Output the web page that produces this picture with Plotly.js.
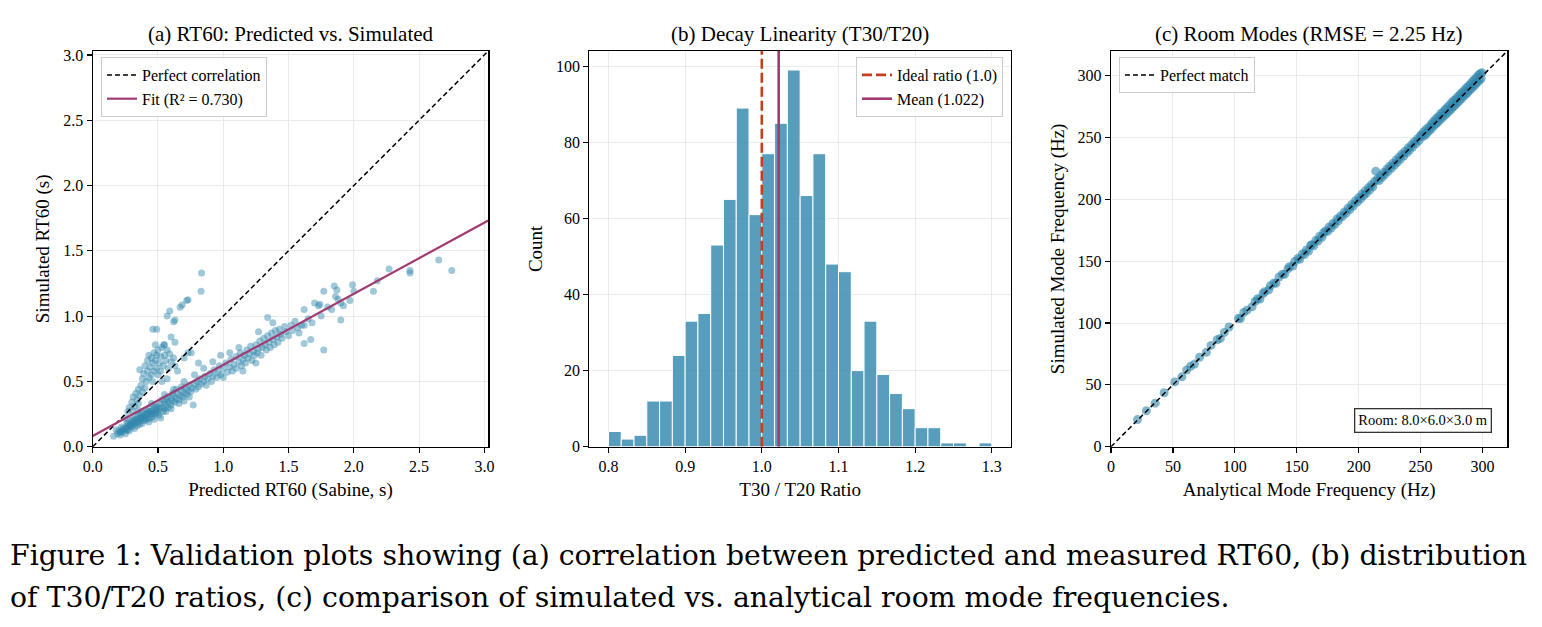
<!DOCTYPE html>
<html>
<head>
<meta charset="utf-8">
<script src="https://cdn.plot.ly/plotly-3.0.1.min.js"></script>
<style>html,body{margin:0;padding:0;background:#fff;}#chart{width:1542px;height:627px;}</style>
</head>
<body>
<div id="chart"></div>
<script>
// ---------- (a) RT60: predicted (Sabine) vs simulated ----------
const predictedRT60 = [
  0.16,0.19,0.20,0.21,0.22,0.23,0.24,0.25,0.25,0.26,
  0.27,0.28,0.28,0.29,0.30,0.30,0.31,0.32,0.32,0.33,
  0.34,0.34,0.35,0.36,0.36,0.37,0.38,0.38,0.39,0.40,
  0.40,0.41,0.42,0.42,0.43,0.44,0.44,0.45,0.46,0.46,
  0.47,0.48,0.48,0.49,0.50,0.50,0.51,0.52,0.52,0.53,
  0.54,0.55,0.55,0.56,0.57,0.58,0.58,0.60,0.60,0.61,
  0.62,0.63,0.64,0.65,0.66,0.67,0.68,0.69,0.70,0.71,
  0.72,0.73,0.74,0.75,0.76,0.77,0.78,0.79,0.80,0.81,
  0.82,0.83,0.85,0.86,0.87,0.88,0.90,0.91,0.92,0.93,
  0.95,0.96,0.97,0.98,1.00,1.00,
  0.35,0.45,0.55,0.62,0.70,0.78,0.85,0.92,0.98,0.18,
  0.22,0.26,0.29,0.33,0.37,0.41,0.43,0.47,0.51,0.56,
  0.60,0.66,0.70,0.74,
  1.02,1.03,1.05,1.06,1.07,1.08,1.10,1.10,1.12,1.13,
  1.14,1.15,1.16,1.17,1.18,1.19,1.20,1.21,1.22,1.23,
  1.24,1.25,1.26,1.27,1.28,1.29,1.30,1.31,1.32,1.33,
  1.34,1.35,1.36,1.37,1.38,1.39,1.40,1.41,1.42,1.43,
  1.44,1.45,1.47,1.48,1.50,1.52,1.53,1.55,1.57,1.58,
  1.34,1.38,1.27,1.12,1.05,1.15,1.25,
  1.62,1.62,1.62,1.67,1.77,1.70,1.73,1.74,1.77,1.83,
  1.85,1.87,1.86,1.88,1.90,1.92,1.90,1.97,2.00,2.15,
  2.18,2.27,2.43,2.43,2.65,2.75,1.65,1.68,1.60,1.75,
  1.80,1.99,
  0.25,0.27,0.28,0.30,0.30,0.31,0.32,0.33,0.34,0.35,
  0.35,0.36,0.36,0.37,0.38,0.38,0.39,0.40,0.40,0.41,
  0.42,0.42,0.43,0.43,0.44,0.45,0.45,0.46,0.46,0.47,
  0.47,0.48,0.48,0.49,0.49,0.50,0.50,0.51,0.52,0.52,
  0.53,0.54,0.55,0.55,0.56,0.57,0.58,0.59,0.60,0.62,
  0.63,0.65,0.70,0.755,0.53,0.57,
  0.83,0.834,0.73,0.72,0.685,0.67,0.59,0.57,0.62,0.63,
  0.46,0.49,0.60,0.63,0.545,0.81,0.73,
  0.21,0.23,0.26,0.27,0.29,0.31,0.33,0.35,0.37,0.39,
  0.41,0.43,0.45,0.47,0.49,0.53,0.57,0.61,0.64,0.68
];
const simulatedRT60 = [
  0.08,0.10,0.12,0.09,0.11,0.13,0.12,0.14,0.10,0.15,
  0.13,0.16,0.12,0.17,0.15,0.19,0.17,0.14,0.20,0.18,
  0.16,0.21,0.19,0.22,0.17,0.20,0.23,0.18,0.21,0.24,
  0.20,0.22,0.26,0.21,0.24,0.27,0.22,0.25,0.28,0.23,
  0.26,0.30,0.25,0.27,0.31,0.26,0.29,0.33,0.22,0.30,
  0.27,0.34,0.29,0.32,0.36,0.30,0.34,0.37,0.32,0.35,
  0.39,0.34,0.37,0.41,0.36,0.39,0.43,0.38,0.41,0.45,
  0.40,0.43,0.47,0.42,0.45,0.32,0.48,0.44,0.50,0.46,
  0.52,0.48,0.50,0.54,0.47,0.52,0.56,0.50,0.54,0.59,
  0.53,0.57,0.62,0.55,0.60,0.53,
  0.28,0.33,0.40,0.44,0.50,0.55,0.60,0.65,0.70,0.13,
  0.15,0.18,0.20,0.23,0.25,0.28,0.19,0.21,0.24,0.27,
  0.29,0.33,0.35,0.38,
  0.64,0.57,0.61,0.67,0.58,0.63,0.69,0.60,0.65,0.72,
  0.62,0.67,0.70,0.64,0.74,0.68,0.71,0.77,0.66,0.73,
  0.70,0.78,0.72,0.75,0.81,0.70,0.76,0.83,0.78,0.74,
  0.85,0.80,0.76,0.87,0.82,0.78,0.89,0.84,0.80,0.90,
  0.86,0.83,0.92,0.88,0.85,0.93,0.89,0.96,0.91,0.87,
  0.99,0.95,0.88,0.76,0.72,0.58,0.64,
  1.05,0.93,0.79,0.82,0.74,1.10,1.08,1.09,1.19,1.05,
  1.23,1.20,1.15,1.13,1.10,1.08,0.97,1.12,1.19,1.19,
  1.27,1.36,1.35,1.33,1.43,1.35,0.98,0.95,0.93,1.00,
  1.07,1.24,
  0.22,0.27,0.30,0.28,0.34,0.38,0.31,0.41,0.36,0.44,
  0.33,0.39,0.59,0.47,0.42,0.52,0.56,0.45,0.62,0.50,
  0.58,0.66,0.53,0.70,0.61,0.55,0.68,0.64,0.50,0.72,
  0.58,0.66,0.78,0.60,0.70,0.55,0.74,0.64,0.69,0.58,
  0.76,0.62,0.70,0.78,0.66,0.74,0.60,0.71,0.65,0.68,
  0.62,0.58,0.68,0.72,0.50,0.52,
  1.19,1.33,1.125,1.12,1.085,1.067,1.04,1.00,0.956,0.97,
  0.90,0.90,0.84,0.80,0.78,0.64,0.72,
  0.11,0.14,0.13,0.18,0.16,0.21,0.19,0.24,0.22,0.26,
  0.25,0.29,0.27,0.32,0.29,0.36,0.38,0.41,0.44,0.46
];
const axisLimitRT60 = 3.03;
const fitLineX = [0, 3.03];
const fitLineY = [0.082, 1.732];
const fitR2 = "0.730";

// ---------- (b) T30/T20 ratio histogram ----------
const ratioBinStart = 0.80;
const ratioBinEnd = 1.30;
const ratioCounts = [4,2,3,12,12,24,33,35,53,65,89,61,77,85,99,66,77,48,46,20,33,19,14,10,5,5,1,1,0,1];
const idealRatio = 1.0;
const meanRatio = 1.022;

// ---------- (c) Room modes ----------
const modeAnalytical = [
  21.4,28.6,35.7,42.9,51.5,57.2,61.1,64.3,67.4,71.5,77.0,80.8,85.7,88.3,91.5,95.3,
  102.9,104.5,107.2,109.8,113.9,116.4,118.2,120.3,122.8,124.1,127.4,128.6,131.5,133.2,135.7,138.4,140.1,142.9,144.0,146.8,148.3,
  150.9,152.4,154.6,156.3,157.8,159.5,161.2,162.0,163.7,165.4,167.1,168.5,170.3,171.6,173.2,174.9,176.0,177.8,179.3,180.7,
  182.5,183.6,185.2,186.9,188.4,189.7,191.5,192.8,194.3,195.6,197.4,198.9,
  200.2,201.7,202.6,204.1,205.3,206.2,207.9,208.8,210.3,211.4,212.9,213.8,215.0,216.5,217.6,218.9,220.3,221.2,222.8,223.7,
  225.1,226.4,227.5,228.9,230.2,231.1,232.7,233.6,235.0,236.3,237.4,238.9,240.1,241.0,242.6,243.5,244.9,246.2,247.3,248.8,249.6,
  250.7,251.9,252.4,253.8,254.5,255.2,256.6,257.1,258.3,258.9,259.7,260.8,261.3,262.6,263.0,264.2,264.8,265.9,266.4,267.7,
  268.2,269.5,270.0,271.2,271.7,272.9,273.4,274.6,275.1,276.3,276.9,277.8,278.6,279.4,280.3,281.1,281.9,282.8,283.5,284.6,
  285.2,286.3,286.9,287.8,288.6,289.4,290.2,291.1,291.8,292.7,293.3,294.2,295.0,295.9,296.6,297.4,298.1,298.9,299.5
];
const modeSimulated = [
  21.9,29.1,35.2,43.6,52.4,56.5,62.0,65.1,66.8,72.3,76.4,81.9,86.5,87.6,92.4,96.8,
  103.8,103.6,108.5,110.4,113.1,117.5,119.6,119.4,123.9,125.3,126.8,130.1,132.4,132.1,137.2,139.5,139.4,143.8,145.6,146.1,149.7,
  152.3,151.5,156.0,155.4,159.1,158.2,162.8,163.4,162.5,166.9,166.2,170.1,169.4,173.0,174.5,174.1,177.6,176.9,180.8,179.6,
  184.2,182.7,186.5,186.1,189.9,188.8,193.0,191.7,195.8,194.6,198.9,197.8,
  201.5,200.4,204.3,203.0,206.9,205.1,209.4,207.6,211.8,210.2,214.6,222.8,216.4,215.3,219.2,217.8,221.9,220.1,224.5,222.6,
  226.8,225.2,229.1,227.7,231.9,230.0,234.3,232.4,236.7,235.1,239.0,237.6,241.8,239.9,244.1,242.3,246.6,245.0,248.9,247.5,251.2,
  252.3,250.8,254.6,252.1,256.8,253.9,258.2,255.6,260.4,257.3,262.1,259.5,263.8,261.2,265.9,262.7,267.3,264.6,269.5,266.1,
  270.8,268.0,272.9,269.4,274.6,271.3,276.2,272.8,278.5,274.7,279.9,276.2,281.4,277.9,283.2,279.6,285.0,281.2,286.4,283.1,
  288.3,284.7,290.1,286.2,291.5,288.0,293.4,289.6,295.2,291.3,296.8,292.9,298.5,294.6,300.3,296.2,301.6,297.8,302.4
];
const modeAxisLimit = 320;
const roomLabel = "Room: 8.0×6.0×3.0 m";
const rmseHz = "2.25";

// ---------- texts ----------
const panelTitles = [
  "(a) RT60: Predicted vs. Simulated",
  "(b) Decay Linearity (T30/T20)",
  "(c) Room Modes (RMSE = " + rmseHz + " Hz)"
];
const captionLines = [
  "Figure 1: Validation plots showing (a) correlation between predicted and measured RT60, (b) distribution",
  "of T30/T20 ratios, (c) comparison of simulated vs. analytical room mode frequencies."
];

// ---------- styling ----------
const BLUE = "#2E86AB", PURPLE = "#A23B72", RED = "#C73E1D";
const SERIF = "Liberation Serif, Times New Roman, serif";
const W = 1542, H = 627;
const fx = p => p / W;
const fy = p => 1 - p / H;

const binWidth = (ratioBinEnd - ratioBinStart) / ratioCounts.length;
const binCenters = ratioCounts.map((_, i) => ratioBinStart + binWidth * (i + 0.5));
const histTop = 104;

const traces = [
  {type:"scatter", mode:"markers", x:predictedRT60, y:simulatedRT60, xaxis:"x", yaxis:"y",
   marker:{color:BLUE, opacity:0.45, size:7, line:{width:0}}, showlegend:false, hoverinfo:"x+y"},
  {type:"scatter", mode:"lines", x:[0, axisLimitRT60], y:[0, axisLimitRT60], xaxis:"x", yaxis:"y",
   line:{color:"#000", width:1.5, dash:"5px,3px"}, name:"Perfect correlation", legend:"legend"},
  {type:"scatter", mode:"lines", x:fitLineX, y:fitLineY, xaxis:"x", yaxis:"y",
   line:{color:PURPLE, width:2.2}, name:"Fit (R² = " + fitR2 + ")", legend:"legend"},

  {type:"bar", x:binCenters, y:ratioCounts, width:binWidth, xaxis:"x2", yaxis:"y2",
   marker:{color:"rgba(46,134,171,0.8)", line:{color:"#fff", width:1}}, showlegend:false},
  {type:"scatter", mode:"lines", x:[idealRatio, idealRatio], y:[0, histTop], xaxis:"x2", yaxis:"y2",
   line:{color:RED, width:2.6, dash:"10px,4px"}, name:"Ideal ratio (1.0)", legend:"legend2"},
  {type:"scatter", mode:"lines", x:[meanRatio, meanRatio], y:[0, histTop], xaxis:"x2", yaxis:"y2",
   line:{color:PURPLE, width:2.6}, name:"Mean (" + meanRatio.toFixed(3) + ")", legend:"legend2"},

  {type:"scatter", mode:"markers", x:modeAnalytical, y:modeSimulated, xaxis:"x3", yaxis:"y3",
   marker:{color:BLUE, opacity:0.6, size:9, line:{width:0}}, showlegend:false},
  {type:"scatter", mode:"lines", x:[0, modeAxisLimit], y:[0, modeAxisLimit], xaxis:"x3", yaxis:"y3",
   line:{color:"#000", width:1.5, dash:"5px,3px"}, name:"Perfect match", legend:"legend3"}
];

const yDom = [fy(446.7), fy(51)];
function axis(dom, range, dtick, fmt, title, anchor, standoff) {
  return {
    domain: dom, range: range, dtick: dtick, tick0: 0, tickformat: fmt, anchor: anchor,
    showline: true, mirror: true, linecolor: "#000", linewidth: 1.2,
    ticks: "outside", ticklen: 5, tickwidth: 1.2, tickcolor: "#000",
    showgrid: true, gridcolor: "#e6e6e6", gridwidth: 0.8, zeroline: false,
    tickfont: {family: SERIF, size: 16, color: "#000"},
    title: {text: title, font: {family: SERIF, size: 19, color: "#000"}, standoff: standoff},
    automargin: false, fixedrange: true
  };
}

const legendBase = {
  bgcolor: "rgba(255,255,255,0.85)", bordercolor: "#cccccc", borderwidth: 1,
  font: {family: SERIF, size: 16, color: "#000"}, yanchor: "top", tracegroupgap: 0
};

const layout = {
  width: W, height: H, autosize: false,
  margin: {l: 0, r: 0, t: 0, b: 0},
  paper_bgcolor: "#fff", plot_bgcolor: "#fff",
  font: {family: SERIF, color: "#000"},
  showlegend: true,
  xaxis:  axis([fx(92.7), fx(488.3)], [0, axisLimitRT60], 0.5, ".1f", "Predicted RT60 (Sabine, s)", "y", 8),
  yaxis:  axis(yDom, [0, axisLimitRT60], 0.5, ".1f", "Simulated RT60 (s)", "x", 8),
  xaxis2: axis([fx(589.3), fx(1011)], [0.775, 1.325], 0.1, ".1f", "T30 / T20 Ratio", "y2", 8),
  yaxis2: axis(yDom, [0, histTop], 20, "d", "Count", "x2", 8),
  xaxis3: axis([fx(1111), fx(1507.3)], [0, modeAxisLimit], 50, "d", "Analytical Mode Frequency (Hz)", "y3", 8),
  yaxis3: axis(yDom, [0, modeAxisLimit], 50, "d", "Simulated Mode Frequency (Hz)", "x3", 8),
  legend:  Object.assign({}, legendBase, {x: fx(101), y: fy(57), xanchor: "left"}),
  legend2: Object.assign({}, legendBase, {x: fx(1003), y: fy(57), xanchor: "right"}),
  legend3: Object.assign({}, legendBase, {x: fx(1119), y: fy(57), xanchor: "left"}),
  annotations: [
    {text: panelTitles[0], x: fx(290.5), y: fy(34), xref: "paper", yref: "paper", xanchor: "center", yanchor: "middle", showarrow: false, font: {family: SERIF, size: 21, color: "#000"}},
    {text: panelTitles[1], x: fx(800), y: fy(34), xref: "paper", yref: "paper", xanchor: "center", yanchor: "middle", showarrow: false, font: {family: SERIF, size: 21, color: "#000"}},
    {text: panelTitles[2], x: fx(1309), y: fy(34), xref: "paper", yref: "paper", xanchor: "center", yanchor: "middle", showarrow: false, font: {family: SERIF, size: 21, color: "#000"}},
    {text: roomLabel, x: fx(1492), y: fy(420), xref: "paper", yref: "paper", xanchor: "right", yanchor: "middle", showarrow: false,
     font: {family: SERIF, size: 14.5, color: "#000"}, bordercolor: "#333", borderwidth: 1.3, borderpad: 3, bgcolor: "#fff"},
    {text: captionLines[0], x: fx(8), y: fy(555), xref: "paper", yref: "paper", xanchor: "left", yanchor: "middle", showarrow: false,
     font: {family: "DejaVu Serif, serif", size: 28.3, color: "#000"}},
    {text: captionLines[1], x: fx(8), y: fy(597), xref: "paper", yref: "paper", xanchor: "left", yanchor: "middle", showarrow: false,
     font: {family: "DejaVu Serif, serif", size: 28.3, color: "#000"}}
  ]
};

Plotly.newPlot("chart", traces, layout, {displayModeBar: false, staticPlot: true});
</script>
</body>
</html>
